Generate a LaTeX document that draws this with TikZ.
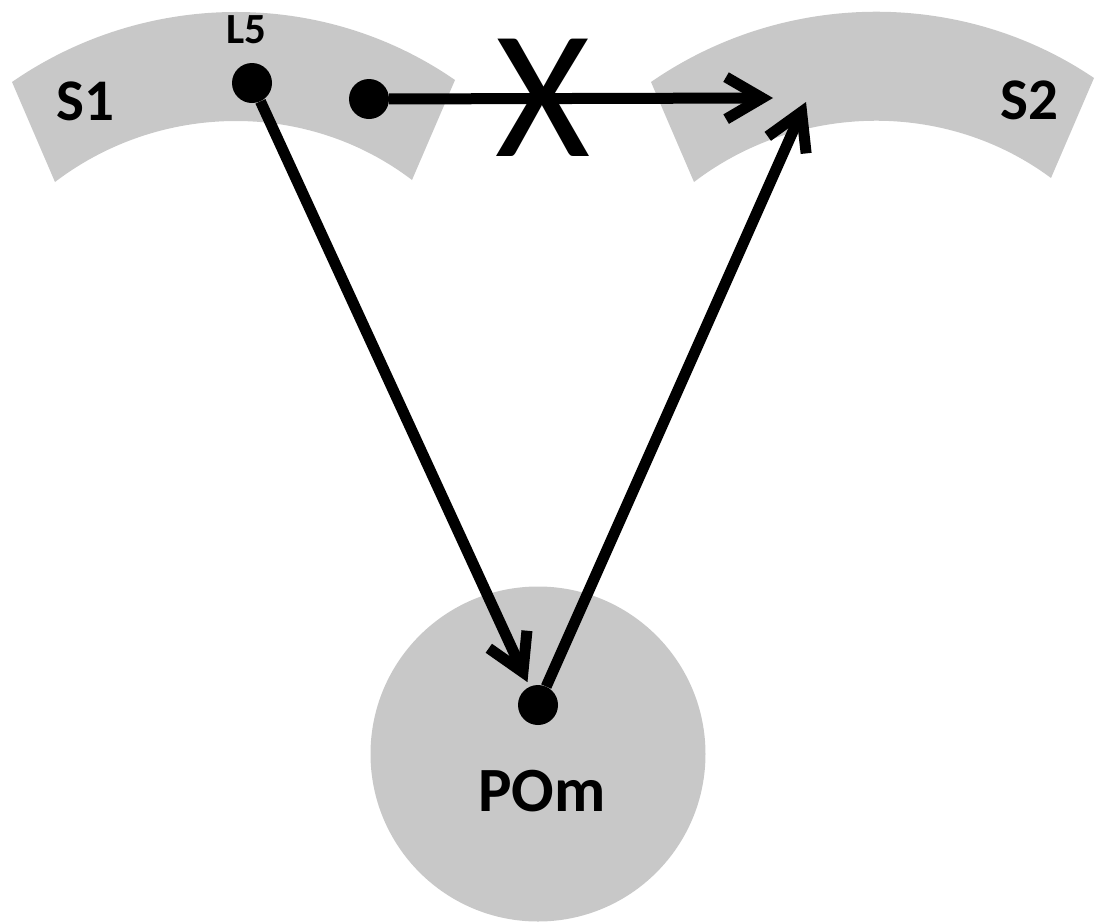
\documentclass[tikz,border=0pt]{standalone}
\usepackage{fontspec}
\setmainfont{Carlito}
\usetikzlibrary{arrows.meta}
\definecolor{bandgray}{RGB}{200,200,200}
\tikzset{
  bandfill/.style={fill=bandgray, draw=none},
  dot/.style={circle, fill=black, draw=none, inner sep=0pt, minimum size=40pt},
  conn/.style={line width=11pt, -{Straight Barb[length=36pt, width=42pt]}},
  lbl/.style={inner sep=0pt, font=\bfseries\fontsize{59}{60}\selectfont},
}
\begin{document}
\begin{tikzpicture}[x=1pt, y=-1pt]
\useasboundingbox (0,0) rectangle (1096,924);
% bands
\fill[bandfill] (12,82) .. controls (145,-10) and (322,-12) .. (455,80)
  -- (412,180) .. controls (307,100) and (160,102) .. (55,182) -- cycle;
\fill[bandfill] (651,82) .. controls (784,-10) and (961,-12) .. (1094,78)
  -- (1051,178) .. controls (946,100) and (799,102) .. (694,182) -- cycle;
% POm circle
\node[circle, fill=bandgray, inner sep=0pt, minimum size=335pt] (pom) at (538,754) {};
% labels
\node[lbl] (s1) at (85,101) {S1};
\node[lbl] (s2) at (1029,100) {S2};
\node[lbl, font=\bfseries\fontsize{43}{44}\selectfont] (l5lbl) at (246,30) {L5};
\node[lbl, font=\bfseries\fontsize{63}{64}\selectfont] (pomlbl) at (542,791) {POm};
% dots
\node[dot] (l5) at (252,83) {};
\node[dot] (d2) at (369,99) {};
\node[dot] (pd) at (538,705) {};
\coordinate (t1) at (773,98);
\coordinate (t2) at (806,102);
% connectors
\draw[conn, shorten >=5pt] (l5) -- (pd);
\draw[conn] (d2) -- (t1);
\draw[conn] (pd) -- (t2);
% X
\node[inner sep=0pt, font=\fontsize{183}{184}\selectfont] (x) at (543,98) {X};
\end{tikzpicture}
\end{document}
